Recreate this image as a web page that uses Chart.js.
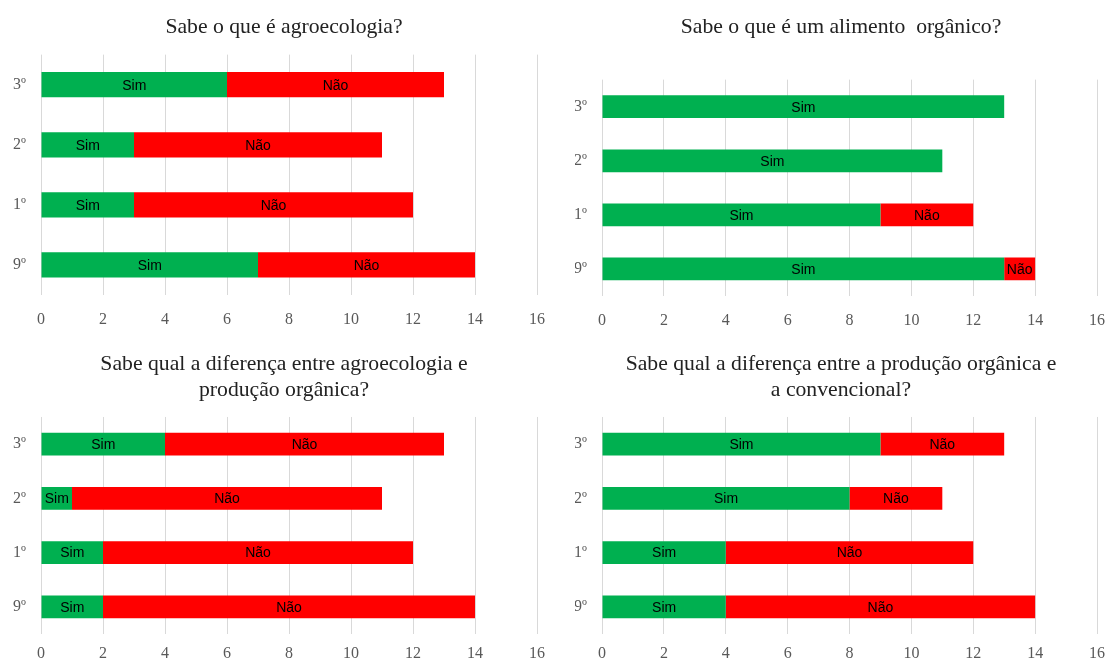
<!DOCTYPE html>
<html>
<head>
<meta charset="utf-8">
<script src="https://cdn.jsdelivr.net/npm/chart.js@4/dist/chart.umd.min.js"></script>
<style>
  body { margin: 0; background: #fff; width: 1107px; height: 659px; overflow: hidden; position: relative; }
  .panel { position: absolute; }
</style>
</head>
<body>
<div class="panel" style="left:0;top:0;width:568px;height:335px"><canvas id="c1"></canvas></div>
<div class="panel" style="left:568px;top:0;width:539px;height:335px"><canvas id="c2"></canvas></div>
<div class="panel" style="left:0;top:335px;width:568px;height:324px"><canvas id="c3"></canvas></div>
<div class="panel" style="left:568px;top:335px;width:539px;height:324px"><canvas id="c4"></canvas></div>
<script>
// series / categories (bottom to top)
const anos = ['9º', '1º', '2º', '3º'];
const xTicks = [0, 2, 4, 6, 8, 10, 12, 14, 16];

const agroSim = [7, 3, 3, 6];
const agroNao = [7, 9, 8, 7];

const organicoSim = [13, 9, 11, 13];
const organicoNao = [1, 3, 0, 0];

const difAgroSim = [2, 2, 1, 4];
const difAgroNao = [12, 10, 10, 9];

const difConvSim = [4, 4, 8, 9];
const difConvNao = [10, 8, 3, 4];

const VERDE = '#00b050';
const VERMELHO = '#ff0000';
const SERIF = '"Liberation Serif", "Times New Roman", serif';

// writes "Sim" / "Não" in the middle of each segment
const segmentLabels = {
    id: 'segmentLabels',
    afterDatasetsDraw(chart) {
        const ctx = chart.ctx;
        ctx.save();
        ctx.font = '14px "Liberation Sans", Arial, sans-serif';
        ctx.fillStyle = '#000';
        ctx.textAlign = 'center';
        ctx.textBaseline = 'middle';
        chart.data.datasets.forEach((ds, i) => {
            const meta = chart.getDatasetMeta(i);
            meta.data.forEach((bar, j) => {
                if (!ds.data[j]) return;
                const { x, y, base } = bar.getProps(['x', 'y', 'base'], true);
                ctx.fillText(ds.label, (x + base) / 2, y + 1);
            });
        });
        ctx.restore();
    }
};

// nudges the title sideways (the title box stops at the right padding)
const titleShift = {
    id: 'titleShift',
    afterLayout(chart, args, opts) {
        const t = chart.titleBlock;
        if (!t || !opts.dx) return;
        t.left += opts.dx;
        t.right += opts.dx;
    }
};

function makeChart(id, title, sim, nao, opt) {
    return new Chart(document.getElementById(id), {
        type: 'bar',
        data: {
            labels: anos,
            datasets: [
                { label: 'Sim', data: sim, backgroundColor: VERDE },
                { label: 'Não', data: nao, backgroundColor: VERMELHO }
            ]
        },
        options: {
            indexAxis: 'y',
            responsive: true,
            maintainAspectRatio: false,
            animation: false,
            layout: { padding: { left: opt.padLeft, right: opt.padRight, top: 0, bottom: 0 } },
            datasets: { bar: { categoryPercentage: 1, barPercentage: 0.42 } },
            plugins: {
                legend: { display: false },
                tooltip: { enabled: false },
                titleShift: { dx: opt.titleDx },
                title: {
                    display: true,
                    text: title,
                    color: '#222',
                    font: { family: SERIF, size: 21.7, weight: 'normal', lineHeight: opt.titleLH },
                    padding: { top: opt.titleTop, bottom: opt.titleBottom }
                }
            },
            scales: {
                x: {
                    stacked: true,
                    min: 0,
                    max: 16,
                    afterBuildTicks: s => { s.ticks = xTicks.map(v => ({ value: v })); },
                    afterFit: s => { s.height = opt.xHeight; },
                    // invisible tick marks push the labels down without widening the side padding
                    grid: { color: '#d9d9d9', drawTicks: true, tickLength: opt.xGap, tickColor: 'rgba(0,0,0,0)' },
                    border: { display: false },
                    ticks: {
                        color: '#595959',
                        padding: 0,
                        font: { family: SERIF, size: 16 }
                    }
                },
                y: {
                    stacked: true,
                    reverse: true,
                    afterFit: s => { s.width = opt.yWidth; },
                    grid: { display: false, drawTicks: false },
                    border: { display: false },
                    ticks: {
                        color: '#595959',
                        padding: 15,
                        font: { family: SERIF, size: 16 }
                    }
                }
            }
        },
        plugins: [segmentLabels, titleShift]
    });
}

// left column: plot area 41..537, right column: 602..1097
makeChart('c1', 'Sabe o que é agroecologia?', agroSim, agroNao,
    { padLeft: 0, padRight: 31, yWidth: 41, titleDx: 15.5, titleLH: 1.2, titleTop: 13.8, titleBottom: 14.8, xHeight: 40, xGap: 15 });
makeChart('c2', 'Sabe o que é um alimento  orgânico?', organicoSim, organicoNao,
    { padLeft: 7, padRight: 10, yWidth: 27, titleDx: 5, titleLH: 1.2, titleTop: 13.8, titleBottom: 39.8, xHeight: 39, xGap: 15 });
makeChart('c3', ['Sabe qual a diferença entre agroecologia e', 'produção orgânica?'], difAgroSim, difAgroNao,
    { padLeft: 0, padRight: 31, yWidth: 41, titleDx: 15.5, titleLH: 1.2, titleTop: 16, titleBottom: 13.9, xHeight: 25, xGap: 10 });
makeChart('c4', ['Sabe qual a diferença entre a produção orgânica e', 'a convencional?'], difConvSim, difConvNao,
    { padLeft: 7, padRight: 10, yWidth: 27, titleDx: 5, titleLH: 1.2, titleTop: 16, titleBottom: 13.9, xHeight: 25, xGap: 10 });
</script>
</body>
</html>
